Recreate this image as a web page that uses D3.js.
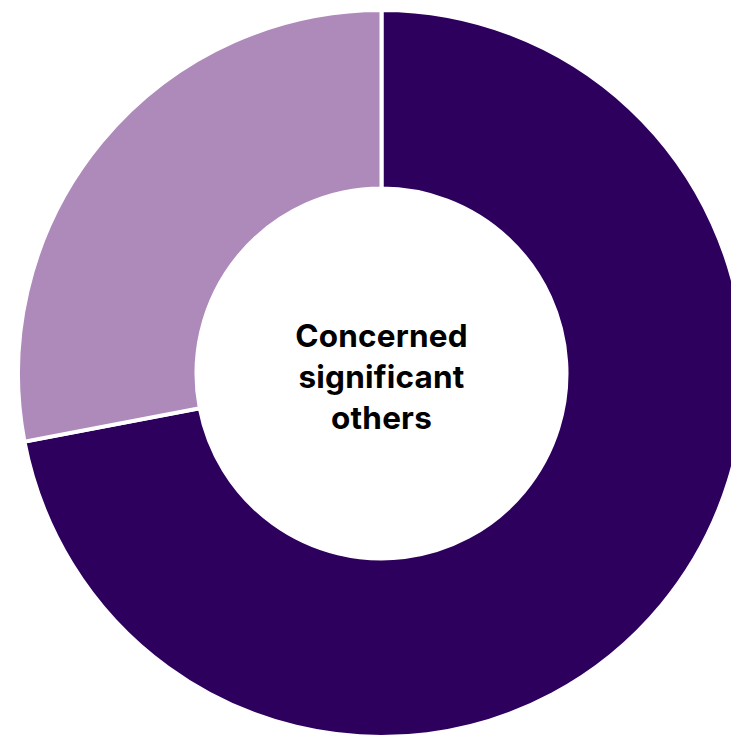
<!DOCTYPE html>
<html>
<head>
<meta charset="utf-8">
<script src="https://cdn.jsdelivr.net/npm/d3@7"></script>
<style>
html,body{margin:0;padding:0;background:#fff;}
svg{display:block;}
</style>
</head>
<body>
<svg id="chart" width="731" height="738"></svg>
<script>
const categories = ["Yes", "No"];
const values = [72, 28];
const colors = ["#2e005e", "#ae8aba"];
const centerLabel = ["Concerned", "significant", "others"];

const svg = d3.select("#chart");
const cx = 381.5, cy = 373.5, outerR = 363.5, innerR = 185;
const g = svg.append("g").attr("transform", `translate(${cx},${cy})`);

const pie = d3.pie().sort(null).value(d => d.v);
const arc = d3.arc().innerRadius(innerR).outerRadius(outerR);
const data = categories.map((c, i) => ({c, v: values[i], col: colors[i]}));

g.selectAll("path").data(pie(data)).join("path")
  .attr("d", arc)
  .attr("fill", d => d.data.col)
  .attr("stroke", "#fff")
  .attr("stroke-width", 4)
  .attr("stroke-linejoin", "miter");

const t = g.append("text")
  .attr("text-anchor", "middle")
  .attr("font-family", "Inter, 'Noto Sans', sans-serif")
  .attr("font-weight", 700)
  .attr("font-size", 31.5)
  .attr("letter-spacing", 0.2)
  .attr("fill", "#000");
centerLabel.forEach((s, i) => {
  t.append("tspan").attr("x", 0).attr("y", -27 + i * 41).text(s);
});
</script>
</body>
</html>
